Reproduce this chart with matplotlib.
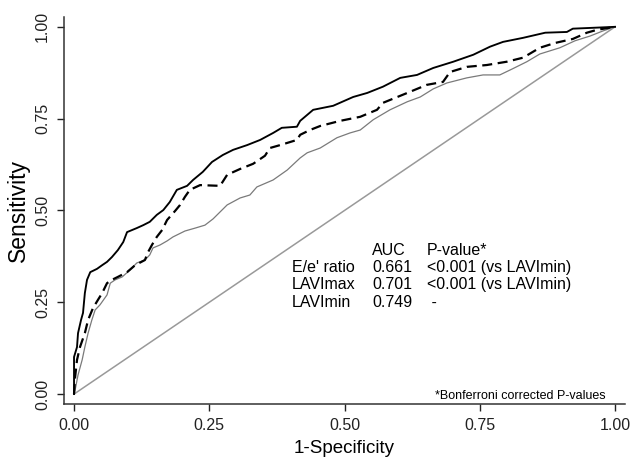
import matplotlib
matplotlib.use("Agg")
import matplotlib.pyplot as plt

plt.rcParams['font.family'] = ['Liberation Sans', 'DejaVu Sans']

# ROC-Kurven (1-Spezifität, Sensitivität)
lavimin_x = [0, 0, 0.0055, 0.0074, 0.013, 0.0166, 0.020, 0.024, 0.030, 0.0425, 0.052, 0.061,
             0.070, 0.081, 0.091, 0.098, 0.116, 0.128, 0.140, 0.153, 0.165, 0.177, 0.190,
             0.209, 0.220, 0.238, 0.255, 0.275, 0.294, 0.320, 0.344, 0.368, 0.384, 0.412,
             0.418, 0.442, 0.479, 0.516, 0.542, 0.571, 0.603, 0.634, 0.664, 0.701, 0.738,
             0.769, 0.793, 0.830, 0.871, 0.911, 0.922, 0.954, 1.0]
lavimin_y = [0, 0.101, 0.128, 0.166, 0.202, 0.221, 0.275, 0.311, 0.332, 0.341, 0.351, 0.360,
             0.373, 0.392, 0.414, 0.441, 0.452, 0.460, 0.469, 0.488, 0.501, 0.523, 0.556,
             0.567, 0.583, 0.605, 0.632, 0.651, 0.665, 0.678, 0.692, 0.711, 0.725, 0.728,
             0.744, 0.774, 0.785, 0.809, 0.820, 0.837, 0.861, 0.869, 0.888, 0.905, 0.924,
             0.946, 0.959, 0.970, 0.984, 0.986, 0.995, 0.997, 1.0]

lavimax_x = [0, 0.002, 0.0055, 0.011, 0.020, 0.026, 0.035, 0.044, 0.052, 0.061, 0.070, 0.081,
             0.098, 0.113, 0.131, 0.137, 0.144, 0.153, 0.163, 0.172, 0.187, 0.196, 0.205,
             0.214, 0.233, 0.270, 0.283, 0.307, 0.331, 0.353, 0.362, 0.381, 0.412, 0.418,
             0.436, 0.455, 0.492, 0.529, 0.560, 0.571, 0.616, 0.652, 0.682, 0.695, 0.726,
             0.763, 0.800, 0.830, 0.861, 0.889, 0.922, 0.948, 0.967, 1.0]
lavimax_y = [0, 0.046, 0.093, 0.128, 0.166, 0.202, 0.234, 0.256, 0.275, 0.302, 0.311, 0.319,
             0.332, 0.351, 0.365, 0.387, 0.406, 0.428, 0.447, 0.474, 0.499, 0.515, 0.537,
             0.556, 0.569, 0.567, 0.597, 0.613, 0.627, 0.649, 0.670, 0.678, 0.692, 0.706,
             0.719, 0.730, 0.744, 0.755, 0.774, 0.793, 0.820, 0.842, 0.850, 0.877, 0.891,
             0.896, 0.905, 0.916, 0.943, 0.956, 0.967, 0.984, 0.992, 1.0]

ee_x = [0, 0.002, 0.0074, 0.015, 0.020, 0.026, 0.033, 0.039, 0.048, 0.061, 0.067, 0.076,
        0.089, 0.1035, 0.116, 0.131, 0.140, 0.146, 0.159, 0.172, 0.183, 0.205, 0.224, 0.242,
        0.257, 0.283, 0.307, 0.325, 0.338, 0.368, 0.394, 0.418, 0.431, 0.455, 0.486, 0.510,
        0.529, 0.553, 0.584, 0.616, 0.640, 0.664, 0.689, 0.726, 0.756, 0.787, 0.811, 0.837,
        0.861, 0.898, 0.926, 0.954, 0.978, 1.0]
ee_y = [0, 0.011, 0.052, 0.093, 0.128, 0.166, 0.202, 0.229, 0.243, 0.270, 0.302, 0.311,
        0.319, 0.338, 0.357, 0.365, 0.379, 0.398, 0.406, 0.417, 0.428, 0.444, 0.452, 0.460,
        0.477, 0.515, 0.534, 0.542, 0.564, 0.583, 0.610, 0.643, 0.657, 0.670, 0.698, 0.711,
        0.719, 0.747, 0.774, 0.796, 0.809, 0.831, 0.847, 0.861, 0.869, 0.869, 0.886, 0.905,
        0.926, 0.943, 0.962, 0.975, 0.989, 1.0]

tick_vals = [0, 0.25, 0.5, 0.75, 1.0]
tick_labels = ["0.00", "0.25", "0.50", "0.75", "1.00"]

table_rows = ["E/e' ratio", "LAVImax", "LAVImin"]
table_auc = ["0.661", "0.701", "0.749"]
table_p = ["<0.001 (vs LAVImin)", "<0.001 (vs LAVImin)", " -"]

fig = plt.figure(figsize=(6.32, 4.57), dpi=100)
ax = fig.add_axes([0.1013, 0.116, 0.8877, 0.847])

# Referenzlinie
ax.plot([0, 1], [0, 1], color='#999999', lw=1.1)
ax.plot(ee_x, ee_y, color='#7a7a7a', lw=0.9)
ax.plot(lavimax_x, lavimax_y, color='black', lw=1.6, linestyle=(0, (4.5, 2.5)))
ax.plot(lavimin_x, lavimin_y, color='black', lw=1.35)

ax.set_xlim(-0.0185, 1.0185)
ax.set_ylim(-0.027, 1.027)
ax.set_xticks(tick_vals)
ax.set_xticklabels(tick_labels)
ax.set_yticks(tick_vals)
ax.set_yticklabels(tick_labels, rotation=90, va='center')
ax.tick_params(direction='out', length=5, width=1, colors='#222222', labelsize=11.5, pad=5)
for s in ['top', 'right']:
    ax.spines[s].set_visible(False)
for s in ['left', 'bottom']:
    ax.spines[s].set_color('#333333')
    ax.spines[s].set_linewidth(1.1)

ax.set_xlabel("1-Specificity", fontsize=13.5)
ax.set_ylabel("Sensitivity", fontsize=16.5)
ax.xaxis.set_label_coords(0.5, -0.093)
ax.yaxis.set_label_coords(-0.061, 0.5)

# Tabelle mit AUC-Werten
fs = 11.5
ax.text(0.551, 0.392, "AUC", fontsize=fs, va='center')
ax.text(0.652, 0.392, "P-value*", fontsize=fs, va='center')
row_y = [0.346, 0.297, 0.248]
for lab, auc, p, yy in zip(table_rows, table_auc, table_p, row_y):
    ax.text(0.403, yy, lab, fontsize=fs, va='center')
    ax.text(0.551, yy, auc, fontsize=fs, va='center')
    ax.text(0.652, yy, p, fontsize=fs, va='center')

ax.text(0.983, -0.005, "*Bonferroni corrected P-values", fontsize=9, ha='right', va='center')

fig.savefig("out.png", dpi=100)
